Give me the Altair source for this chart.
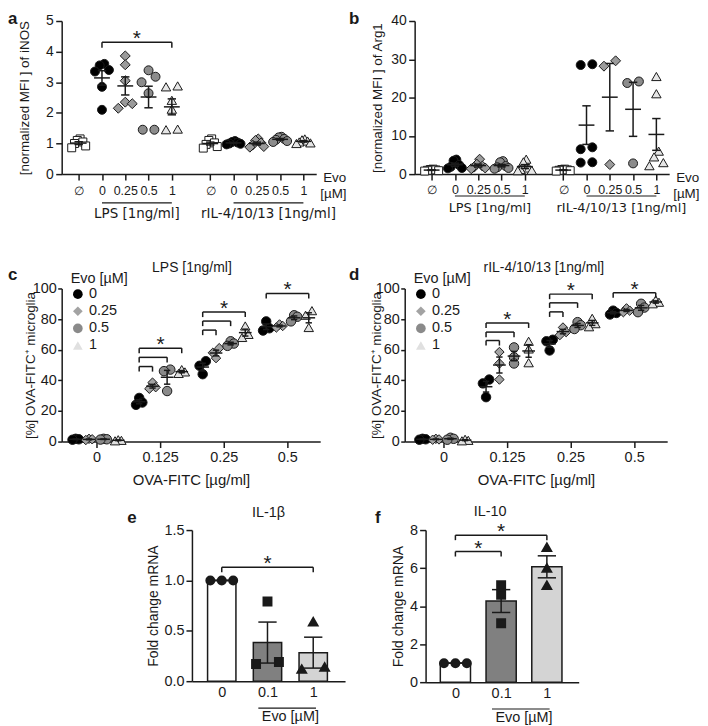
import altair as alt
import numpy as np
import pandas as pd

SANS = "Liberation Sans"
WIDE = "DejaVu Sans"
INK = "#1a1a1a"

# ---------------- values ----------------
GROUP_LABELS = ["∅", "0", "0.25", "0.5", "1"]
GROUP_NAMES = ["LPS [1ng/ml]", "rIL-4/10/13 [1ng/ml]"]

A_LPS = [
    [1.15, 1.10, 1.05, 1.00, 0.92, 0.86],
    [3.60, 3.55, 3.40, 3.35, 2.85, 2.10],
    [3.86, 3.57, 3.05, 2.35, 2.30, 2.15],
    [3.39, 3.18, 3.00, 2.64, 1.45, 1.45],
    [2.88, 2.85, 2.41, 2.12, 1.47, 1.45],
]
A_RIL = [
    [1.15, 1.10, 1.02, 0.97, 0.90, 0.85],
    [1.08, 1.05, 1.03, 1.00, 0.99, 0.97],
    [1.15, 1.10, 1.02, 0.95, 0.90, 0.88],
    [1.22, 1.20, 1.15, 1.12, 1.08, 1.05],
    [1.15, 1.12, 1.08, 1.05, 1.02, 1.00],
]
B_LPS = [
    [1.3, 1.2, 1.1, 1.0, 0.9, 0.8],
    [3.8, 3.5, 2.4, 1.9, 1.6, 1.5],
    [3.9, 2.6, 2.1, 1.8, 1.6, 1.4],
    [3.4, 3.1, 2.1, 1.8, 1.6, 1.4],
    [3.9, 3.2, 1.6, 1.2, 1.0, 0.9],
]
B_RIL = [
    [1.3, 1.2, 1.1, 1.0, 0.9, 0.8],
    [28.7, 28.5, 7.0, 6.5, 3.1, 3.0],
    [29.6, 28.2, 2.5],
    [24.2, 23.8, 2.8],
    [25.5, 21.0, 6.0, 4.5, 3.0, 2.2],
]
# (group index, group index, level, star)
A_BRACKETS = [(1, 4, 4.31, True)]

OVA_LABELS = ["0", "0.125", "0.25", "0.5"]
EVO_LABELS = ["0", "0.25", "0.5", "1"]
C_VALUES = [
    [[1.8, 1.5, 1.2], [1.8, 1.5, 1.0], [1.8, 1.5, 1.3], [1.2, 0.8, 0.5]],
    [[28.5, 25.5, 24.0], [38.5, 35.5, 34.5], [47.0, 46.0, 33.0], [47.0, 45.5, 44.5]],
    [[52.5, 49.5, 44.0], [61.0, 58.0, 54.5], [65.5, 64.0, 62.5], [75.5, 70.0, 68.0]],
    [[78.5, 74.0, 72.5], [76.5, 75.5, 74.5], [82.5, 81.5, 78.5], [85.5, 82.5, 74.5]],
]
D_VALUES = [
    [[1.8, 1.5, 1.2], [1.8, 1.4, 1.2], [2.5, 1.8, 1.2], [1.5, 0.8, 0.5]],
    [[40.5, 38.0, 29.0], [58.5, 51.0, 40.5], [61.5, 55.0, 51.0], [65.5, 60.5, 51.5]],
    [[66.5, 65.5, 59.5], [74.5, 71.5, 69.5], [78.0, 76.0, 73.5], [80.5, 77.0, 75.0]],
    [[85.5, 84.0, 83.0], [87.0, 85.5, 84.5], [90.0, 87.5, 84.5], [92.5, 91.0, 90.0]],
]
# (OVA index, Evo index compared with Evo 0, level, star)
C_BRACKETS = [(1, 1, 49.0, False), (1, 2, 55.0, False), (1, 3, 61.0, True),
              (2, 1, 72.8, False), (2, 2, 78.7, False), (2, 3, 84.6, True),
              (3, 3, 96.7, True)]
D_BRACKETS = [(1, 1, 66.0, False), (1, 2, 71.5, False), (1, 3, 77.5, True),
              (2, 1, 84.7, False), (2, 2, 90.6, False), (2, 3, 96.3, True),
              (3, 3, 97.2, True)]

BAR_LABELS = ["0", "0.1", "1"]
E_VALUES = [[1.0, 1.0, 1.0], [0.17, 0.79, 0.19], [0.12, 0.59, 0.14]]
F_VALUES = [[1.0, 1.0, 1.0], [5.1, 4.6, 3.1], [7.1, 6.0, 5.1]]
E_BRACKETS = [(0, 2, 1.13, True)]
F_BRACKETS = [(0, 1, 6.87, True), (0, 2, 7.73, True)]

# ---------------- styles ----------------
DOT_STYLES = [
    dict(shape="square", fill="white", size=64),
    dict(shape="circle", fill="black", size=81),
    dict(shape="diamond", fill="#9b9b9b", size=100),
    dict(shape="circle", fill="#8c8c8c", size=81),
    dict(shape="triangle-up", fill="#e6e6e6", size=90),
]
EVO_SHAPES = ["circle", "diamond", "circle", "triangle-up"]
EVO_FILLS = ["black", "#a3a3a3", "#8a8a8a", "#e0e0e0"]
EVO_OFFSETS = [-0.33, -0.12, 0.11, 0.34]
BAR_FILLS = ["white", "#808080", "#d4d4d4"]
BAR_SHAPES = ["circle", "square", "triangle-up"]


def spread(values, tol, half, step_max):
    """Side-by-side placement of points whose values nearly coincide."""
    order = sorted(range(len(values)), key=lambda i: values[i])
    clusters, cur = [], [order[0]]
    for i in order[1:]:
        if values[i] - values[cur[-1]] <= tol:
            cur.append(i)
        else:
            clusters.append(cur)
            cur = [i]
    clusters.append(cur)
    off = [0.0] * len(values)
    for cl in clusters:
        n = len(cl)
        if n > 1:
            step = min(step_max, 2 * half / (n - 1))
            slots = [(k - (n - 1) / 2) * step for k in range(n)]
            seq = []
            lo, hi = 0, n - 1
            while lo <= hi:
                seq.append(lo)
                if hi != lo:
                    seq.append(hi)
                lo += 1
                hi -= 1
            for k, i in enumerate(cl):
                off[i] = slots[seq[k]]
    return off


def mean_sem(vals):
    v = np.asarray(vals, dtype=float)
    m = float(v.mean())
    s = float(v.std(ddof=1) / np.sqrt(len(v))) if len(v) > 1 else 0.0
    return m, s


def label_expr(pos, labels):
    expr = f"'{labels[-1]}'"
    for i in range(len(pos) - 2, -1, -1):
        mid = (pos[i] + pos[i + 1]) / 2
        expr = f"datum.value < {mid} ? '{labels[i]}' : ({expr})"
    return expr


def axis(**kw):
    base = dict(domainColor=INK, tickColor=INK, labelColor=INK, titleColor=INK,
                domainWidth=1.5, tickWidth=1.5, tickSize=6, labelFont=SANS,
                titleFont=SANS, labelFontSize=14, titleFontSize=13.5,
                titleFontWeight="normal", grid=False, labelFlush=False,
                labelOverlap=False)
    base.update(kw)
    return alt.Axis(**base)


def ptext(text, x, y, **style):
    st = dict(font=SANS, fontSize=13.5, color=INK, align="center", baseline="middle")
    st.update(style)
    return alt.Chart(pd.DataFrame({"t": [text]})).mark_text(**st).encode(
        x=alt.value(x), y=alt.value(y), text="t:N")


def letter(ch, x, y):
    return ptext(ch, x, y, fontSize=17, fontWeight="bold", align="left", baseline="top")


def mean_sem_layers(stats, X, Y, with_mean=True, width=1.5):
    layers = []
    if with_mean:
        layers.append(alt.Chart(stats).mark_rule(color=INK, strokeWidth=width).encode(
            x=X("ml"), x2=alt.X2("mr"), y=Y("m")))
    layers.append(alt.Chart(stats).mark_rule(color=INK, strokeWidth=width).encode(
        x=X("x"), y=Y("lo"), y2=alt.Y2("hi")))
    caps = pd.concat([stats.assign(cy=stats["lo"]), stats.assign(cy=stats["hi"])])
    layers.append(alt.Chart(caps).mark_rule(color=INK, strokeWidth=width).encode(
        x=X("cl"), x2=alt.X2("cr"), y=Y("cy")))
    return layers


def bracket_layers(rows, X, Y, drop, star_size=21, star_dy=3):
    df = pd.DataFrame(rows, columns=["xa", "xb", "level", "star"])
    df["low"] = df["level"] - drop
    df["xc"] = (df["xa"] + df["xb"]) / 2
    legs = pd.concat([df.assign(xt=df["xa"]), df.assign(xt=df["xb"])])
    return [
        alt.Chart(df).mark_rule(color=INK, strokeWidth=1.5).encode(
            x=X("xa"), x2=alt.X2("xb"), y=Y("level")),
        alt.Chart(legs).mark_rule(color=INK, strokeWidth=1.5).encode(
            x=X("xt"), y=Y("low"), y2=alt.Y2("level")),
        alt.Chart(df[df["star"]]).mark_text(
            text="*", fontSize=star_size, font=SANS, color=INK,
            baseline="alphabetic", dy=star_dy).encode(x=X("xc"), y=Y("level")),
    ]


# ---------------- panels a, b ----------------
def dot_panel(lps, ril, brackets, ydom, yticks, ytitle, let, let_x, under_y, name_y,
              label_pad, name_size):
    W, H = 256, 154
    pos = [0, 1, 2, 3, 4, 5.65, 6.65, 7.65, 8.65, 9.65]
    groups = lps + ril
    xs = alt.Scale(domain=[-0.73, 10.2], nice=False, zero=False)
    ys = alt.Scale(domain=ydom, nice=False, zero=False)
    xax = axis(values=pos, labelExpr=label_expr(pos, GROUP_LABELS * 2), title=None,
               labelPadding=label_pad, labelFontSize=12.5)
    yax = axis(values=yticks, title=ytitle, titleX=-37, titleY=H / 2, titleAngle=270,
               titleAlign="center", titleBaseline="middle", labelPadding=2.5)
    X = lambda f: alt.X(f, type="quantitative", scale=xs, axis=xax)
    Y = lambda f: alt.Y(f, type="quantitative", scale=ys, axis=yax)
    tol = 0.05 * (ydom[1] - ydom[0])
    pts, stats = [], []
    for g, vals in enumerate(groups):
        offs = spread(vals, tol, 0.3, 0.5)
        for v, o in zip(vals, offs):
            pts.append(dict(style=g % 5, x=pos[g] + o, y=v))
        m, s = mean_sem(vals)
        stats.append(dict(x=pos[g], ml=pos[g] - 0.34, mr=pos[g] + 0.34,
                          cl=pos[g] - 0.18, cr=pos[g] + 0.18, m=m, lo=m - s, hi=m + s))
    pts = pd.DataFrame(pts)
    stats = pd.DataFrame(stats)
    layers = []
    for k, st in enumerate(DOT_STYLES):
        layers.append(alt.Chart(pts[pts["style"] == k]).mark_point(
            filled=True, opacity=1, stroke=INK, strokeWidth=1, **st).encode(
            x=X("x"), y=Y("y")))
    layers += mean_sem_layers(stats, X, Y)
    if brackets:
        rows = [(pos[i], pos[j], lev, star) for i, j, lev, star in brackets]
        layers += bracket_layers(rows, X, Y, drop=0.18 * (ydom[1] - ydom[0]) / 5)
    names = pd.DataFrame(dict(xa=[pos[1], pos[6]], xb=[pos[4], pos[9]], name=GROUP_NAMES))
    names["xc"] = (names["xa"] + names["xb"]) / 2
    layers.append(alt.Chart(names).mark_rule(color=INK, strokeWidth=1.2).encode(
        x=X("xa"), x2=alt.X2("xb"), y=alt.value(under_y)))
    layers.append(alt.Chart(names).mark_text(font=WIDE, fontSize=name_size, color=INK,
                                             baseline="middle").encode(
        x=X("xc"), y=alt.value(name_y), text="name:N"))
    layers.append(ptext("Evo", W + 7, 158, align="left", fontSize=13.5))
    layers.append(ptext("[µM]", W + 4, 174, align="left", fontSize=13.5))
    layers.append(letter(let, let_x, -10))
    return alt.layer(*layers).properties(width=W, height=H)


# ---------------- panels c, d ----------------
def ova_panel(values, brackets, xdom, W, title, title_x, let, let_x, ytitle_x):
    H = 154
    xs = alt.Scale(domain=xdom, nice=False, zero=False)
    ys = alt.Scale(domain=[0, 100], nice=False, zero=False)
    ticks = list(range(len(OVA_LABELS)))
    xax = axis(values=ticks, labelExpr=label_expr(ticks, OVA_LABELS),
               title="OVA-FITC [µg/ml]", titleX=W / 2, titleY=38, titleBaseline="middle",
               titleAlign="center", titleFontSize=15, labelPadding=3, labelFontSize=14.5)
    yax = axis(values=[0, 20, 40, 60, 80, 100], title="[%] OVA-FITC⁺ microglia",
               titleX=ytitle_x, titleY=H / 2, titleAngle=270, titleAlign="center",
               titleBaseline="middle", tickSize=4, labelPadding=1.5, labelFontSize=14.5)
    X = lambda f: alt.X(f, type="quantitative", scale=xs, axis=xax)
    Y = lambda f: alt.Y(f, type="quantitative", scale=ys, axis=yax)
    pts, stats = [], []
    for i, per_evo in enumerate(values):
        for j, vals in enumerate(per_evo):
            cx = i + EVO_OFFSETS[j]
            offs = spread(vals, 3.0, 0.05, 0.1)
            for v, o in zip(vals, offs):
                pts.append(dict(evo=EVO_LABELS[j], x=cx + o, y=v))
            m, s = mean_sem(vals)
            stats.append(dict(x=cx, ml=cx - 0.1, mr=cx + 0.1, cl=cx - 0.05, cr=cx + 0.05,
                              m=m, lo=m - s, hi=m + s))
    pts = pd.DataFrame(pts)
    stats = pd.DataFrame(stats)
    leg = alt.Legend(title="Evo [µM]", orient="none", legendX=9, legendY=-16,
                     titleFont=SANS, titleFontSize=14.5, titleFontWeight="normal",
                     titleColor=INK, labelFont=SANS, labelFontSize=14.5, labelColor=INK,
                     symbolSize=95, symbolStrokeColor=INK, symbolStrokeWidth=1,
                     rowPadding=1.2, titlePadding=0, padding=0, labelOffset=4)
    layers = [alt.Chart(pts).mark_point(filled=True, opacity=1, stroke=INK, strokeWidth=1,
                                        size=90).encode(
        x=X("x"), y=Y("y"),
        shape=alt.Shape("evo:N", scale=alt.Scale(domain=EVO_LABELS, range=EVO_SHAPES),
                        legend=leg),
        fill=alt.Fill("evo:N", scale=alt.Scale(domain=EVO_LABELS, range=EVO_FILLS),
                      legend=leg))]
    layers += mean_sem_layers(stats, X, Y)
    rows = [(i + EVO_OFFSETS[0], i + EVO_OFFSETS[j], lev, star) for i, j, lev, star in brackets]
    layers += bracket_layers(rows, X, Y, drop=3.3)
    layers.append(ptext(title, title_x, -21, fontSize=14))
    layers.append(letter(let, let_x, -22))
    return alt.layer(*layers).properties(width=W, height=H)


# ---------------- panels e, f ----------------
def bar_panel(values, brackets, ydom, yticks, yfmt, H, bar_half, title, title_x, title_y,
              let, let_x, ytitle_x, under_y, evo_y):
    W = 154
    xs = alt.Scale(domain=[-0.652, 2.696], nice=False, zero=False)
    ys = alt.Scale(domain=ydom, nice=False, zero=False)
    ticks = list(range(len(BAR_LABELS)))
    xax = axis(values=ticks, labelExpr=label_expr(ticks, BAR_LABELS), title=None,
               ticks=False, labelPadding=4, labelFontSize=14.5)
    yax = axis(values=yticks, format=yfmt, title="Fold change mRNA", titleX=ytitle_x,
               titleY=H / 2, titleAngle=270, titleAlign="center", titleBaseline="middle",
               titleFontSize=14, labelPadding=2, labelFontSize=14.5)
    X = lambda f: alt.X(f, type="quantitative", scale=xs, axis=xax)
    Y = lambda f: alt.Y(f, type="quantitative", scale=ys, axis=yax)
    tol = 0.05 * (ydom[1] - ydom[0])
    layers, stats, pts = [], [], []
    for i, vals in enumerate(values):
        m, s = mean_sem(vals)
        bar = pd.DataFrame(dict(xl=[i - bar_half], xr=[i + bar_half], m=[m], zero=[0.0]))
        layers.append(alt.Chart(bar).mark_bar(fill=BAR_FILLS[i], stroke=INK,
                                              strokeWidth=1.5).encode(
            x=X("xl"), x2=alt.X2("xr"), y=Y("m"), y2=alt.Y2("zero")))
        stats.append(dict(x=i, cl=i - 0.2, cr=i + 0.2, m=m, lo=m - s, hi=m + s))
        offs = spread(vals, tol, 0.25, 0.5)
        pts.append(pd.DataFrame(dict(x=[i + o for o in offs], y=vals)))
    layers += mean_sem_layers(pd.DataFrame(stats), X, Y, with_mean=False)
    for i, df in enumerate(pts):
        layers.append(alt.Chart(df).mark_point(filled=True, opacity=1, fill=INK,
                                               stroke=INK, shape=BAR_SHAPES[i],
                                               size=64 if i < 2 else 75).encode(
            x=X("x"), y=Y("y")))
    rows = [(i, j, lev, star) for i, j, lev, star in brackets]
    layers += bracket_layers(rows, X, Y, drop=5.0 / H * (ydom[1] - ydom[0]))
    und = pd.DataFrame(dict(xa=[0.8], xb=[2.06], xc=[1.5], t=["Evo [µM]"]))
    layers.append(alt.Chart(und).mark_rule(color=INK, strokeWidth=1.2).encode(
        x=X("xa"), x2=alt.X2("xb"), y=alt.value(under_y)))
    layers.append(alt.Chart(und).mark_text(font=SANS, fontSize=14.5, color=INK,
                                           baseline="middle").encode(
        x=X("xc"), y=alt.value(evo_y), text="t:N"))
    layers.append(ptext(title, title_x, title_y, fontSize=14.5))
    layers.append(letter(let, let_x, -20))
    return alt.layer(*layers).properties(width=W, height=H)


pa = dot_panel(A_LPS, A_RIL, A_BRACKETS, [0, 5], [0, 1, 2, 3, 4, 5],
               "[normalized MFI ] of iNOS", "a", -54, 183, 194, 5, 13.5)
pb = dot_panel(B_LPS, B_RIL, [], [0, 40], [0, 10, 20, 30, 40],
               "[normalized MFI ] of Arg1", "b", -66, 176, 188, 3.5, 13)
pc = ova_panel(C_VALUES, C_BRACKETS, [-0.55, 3.52], 260, "LPS [1ng/ml]", 131, "c", -54, -31)
pd_ = ova_panel(D_VALUES, D_BRACKETS, [-0.61, 3.52], 264, "rIL-4/10/13 [1ng/ml]", 140, "d",
                -56, -28)
pe = bar_panel(E_VALUES, E_BRACKETS, [0, 1.5], [0, 0.5, 1.0, 1.5], ".1f", 152, 0.31,
               "IL-1β", 77, -17, "e", -65, -39, 179, 188)
pf = bar_panel(F_VALUES, F_BRACKETS, [0, 8], [0, 2, 4, 6, 8], "d", 153, 0.33,
               "IL-10", 65, -18, "f", -51, -27, 180, 189)

spacer = alt.Chart(pd.DataFrame({"t": [""]})).mark_text().encode(
    x=alt.value(0), y=alt.value(0), text="t:N").properties(width=36, height=10)

row1 = alt.hconcat(pa, pb, spacing=2)
row2 = alt.hconcat(pc, pd_, spacing=29).resolve_scale(
    shape="independent", fill="independent").resolve_legend(
    shape="independent", fill="independent")
row3 = alt.hconcat(spacer, pe, pf, spacing=30)
inner = alt.vconcat(row1, row2, spacing=40)

chart = alt.vconcat(inner, row3, spacing=17).properties(padding=0).configure(
    font=SANS).configure_view(stroke=None)

chart.save("out.html", embed_options={"renderer": "svg", "actions": False})
